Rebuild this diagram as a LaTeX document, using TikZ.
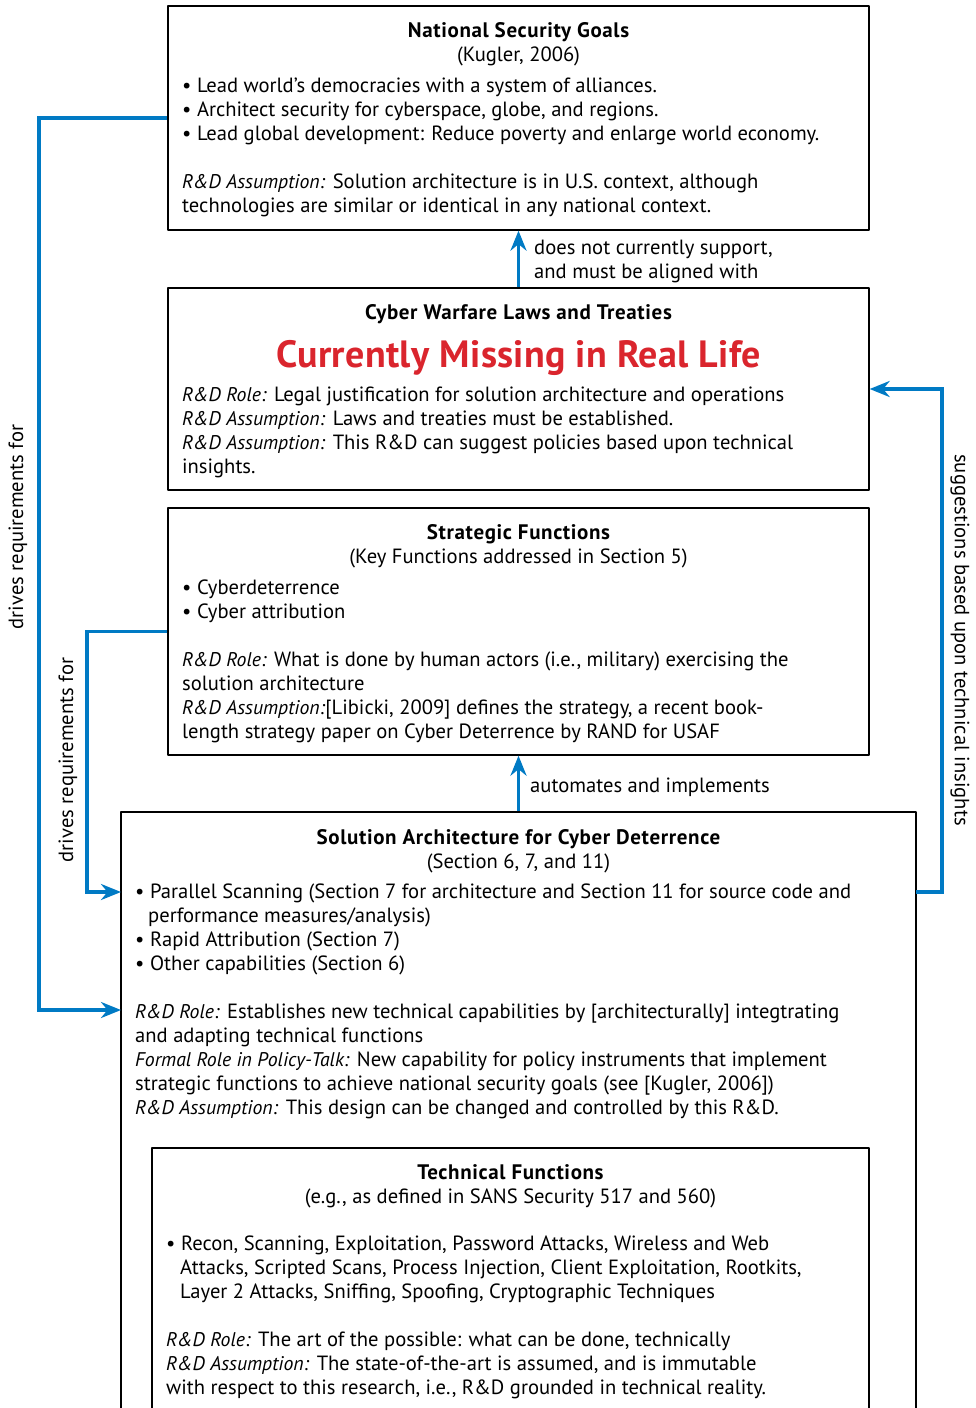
\documentclass[tikz,border=0pt]{standalone}
\usepackage{fontspec}
\setmainfont{PT Sans}[ItalicFeatures={Scale=0.96}]
\usetikzlibrary{arrows.meta}
\definecolor{flowblue}{RGB}{0,122,196}
\definecolor{missred}{RGB}{218,37,45}
\begin{document}
\begin{tikzpicture}[x=1pt,y=-1pt,font=\fontsize{20.6}{24}\selectfont, line join=round, line cap=round, >={Stealth[length=20pt,width=16pt]},
    box/.style={draw,line width=1.3pt,inner sep=0pt,minimum width=701pt},
    flow/.style={draw=flowblue,line width=3.5pt,line cap=butt,line join=miter},
    head/.style={anchor=base,inner sep=0pt,font=\fontsize{21}{24}\selectfont\bfseries\addfontfeature{LetterSpace=3}},
    sub/.style={anchor=base,inner sep=0pt},
    body/.style={anchor=north west,align=left,inner sep=0pt,yshift=15pt,execute at begin node=\strut}]
    %%Khung hình
    \useasboundingbox (0,0) rectangle (976,1408);
    \clip (0,0) rectangle (976,1408);
    \def \xmid{518.5}
    \def \xbody{182}
    %%Các hộp
    \node[box,minimum height=224pt] (goals) at (\xmid,118) {};
    \node[box,minimum height=202pt] (laws) at (\xmid,389) {};
    \node[box,minimum height=247pt] (strategic) at (\xmid,631.5) {};
    \node[box,minimum width=795pt,minimum height=618pt] (solution) at (\xmid,1121) {};
    \node[box,minimum width=717pt,minimum height=282pt] (technical) at (510.5,1289) {};
    %%National Security Goals
    \node[head] (goalsT) at (\xmid,37) {National Security Goals};
    \node[sub] (goalsS) at (\xmid,61) {(Kugler, 2006)};
    \node[body] (goalsB) at (\xbody,93) {• Lead world’s democracies with a system of alliances.\\
        • Architect security for cyberspace, globe, and regions.\\
        • Lead global development: Reduce poverty and enlarge world economy.\\[24pt]
        \textit{R\&D Assumption:} Solution architecture is in U.S. context, although\\
        technologies are similar or identical in any national context.};
    %%Cyber Warfare Laws and Treaties
    \node[head] (lawsT) at (\xmid,319) {Cyber Warfare Laws and Treaties};
    \node[sub,text=missred,font=\fontsize{38}{40}\selectfont\bfseries\addfontfeature{LetterSpace=1}] (lawsM) at (\xmid,367) {Currently Missing in Real Life};
    \node[body] (lawsB) at (\xbody,402) {\textit{R\&D Role:} Legal justification for solution architecture and operations\\
        \textit{R\&D Assumption:} Laws and treaties must be established.\\
        \textit{R\&D Assumption:} This R\&D can suggest policies based upon technical\\
        insights.};
    %%Strategic Functions
    \node[head] (strategicT) at (\xmid,539) {Strategic Functions};
    \node[sub] (strategicS) at (\xmid,563) {(Key Functions addressed in Section 5)};
    \node[body] (strategicB) at (\xbody,595) {• Cyberdeterrence\\
        • Cyber attribution\\[24pt]
        \textit{R\&D Role:} What is done by human actors (i.e., military) exercising the\\
        solution architecture\\
        \textit{R\&D Assumption:}[Libicki, 2009] defines the strategy, a recent book-\\
        length strategy paper on Cyber Deterrence by RAND for USAF};
    %%Solution Architecture
    \node[head] (solutionT) at (\xmid,844) {Solution Architecture for Cyber Deterrence};
    \node[sub] (solutionS) at (\xmid,868) {(Section 6, 7, and 11)};
    \node[body] (solutionB) at (135,899) {• Parallel Scanning (Section 7 for architecture and Section 11 for source code and\\
        \hspace*{13pt}performance measures/analysis)\\
        • Rapid Attribution (Section 7)\\
        • Other capabilities (Section 6)\\[24pt]
        \textit{R\&D Role:} Establishes new technical capabilities by [architecturally] integtrating\\
        and adapting technical functions\\
        \textit{Formal Role in Policy-Talk:} New capability for policy instruments that implement\\
        strategic functions to achieve national security goals (see [Kugler, 2006])\\
        \textit{R\&D Assumption:} This design can be changed and controlled by this R\&D.};
    %%Technical Functions
    \node[head] (technicalT) at (510.5,1179) {Technical Functions};
    \node[sub] (technicalS) at (510.5,1203) {(e.g., as defined in SANS Security 517 and 560)};
    \node[body] (technicalB) at (166,1251) {• Recon, Scanning, Exploitation, Password Attacks, Wireless and Web\\
        \hspace*{14pt}Attacks, Scripted Scans, Process Injection, Client Exploitation, Rootkits,\\
        \hspace*{14pt}Layer 2 Attacks, Sniffing, Spoofing, Cryptographic Techniques\\[24pt]
        \textit{R\&D Role:} The art of the possible: what can be done, technically\\
        \textit{R\&D Assumption:} The state-of-the-art is assumed, and is immutable\\
        with respect to this research, i.e., R\&D grounded in technical reality.};
    %%Mũi tên
    \coordinate (inA) at (121,1010);
    \coordinate (inB) at (121,892);
    \coordinate (outC) at (916,892);
    \draw[flow,->] (laws.north) -- (goals.south);
    \draw[flow,->] (solution.north) -- (strategic.south);
    \draw[flow,->] (goals.west) -| (39,1010) -- (inA);
    \draw[flow,->] (strategic.west) -| (87,892) -- (inB);
    \draw[flow,->] (outC) -| (942,389) -- (laws.east);
    %%Nhãn
    \node[body] (alignL) at (534,255) {does not currently support,\\and must be aligned with};
    \node[sub,anchor=base west] (implL) at (530,792) {automates and implements};
    \node[rotate=90,inner sep=0pt] (drivesA) at (18,527) {drives requirements for};
    \node[rotate=90,inner sep=0pt] (drivesB) at (68,760) {drives requirements for};
    \node[rotate=-90,inner sep=0pt] (suggestL) at (960,640) {suggestions based upon technical insights};
\end{tikzpicture}
\end{document}
